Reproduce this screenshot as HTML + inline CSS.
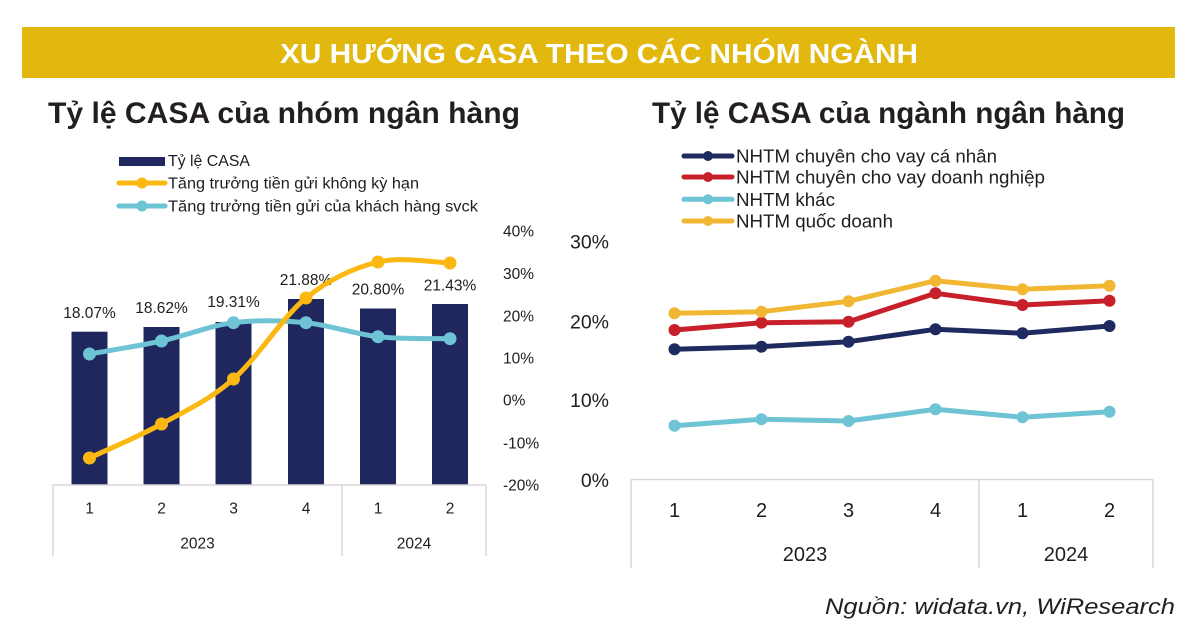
<!DOCTYPE html>
<html>
<head>
<meta charset="utf-8">
<style>
  html,body{margin:0;padding:0;background:#fff;}
  svg{display:block;}
  .t{font-family:"Liberation Sans",sans-serif;fill:#1e1e1e;}
</style>
</head>
<body>
<svg width="1200" height="641" viewBox="0 0 1200 641" xmlns="http://www.w3.org/2000/svg">
  <rect x="0" y="0" width="1200" height="641" fill="#ffffff"/>
  <!-- Banner -->
  <rect x="22" y="27" width="1153" height="51" fill="#E2B80E"/>
  <text x="280" y="63" font-family="Liberation Sans, sans-serif" font-weight="bold" font-size="28" fill="#ffffff" textLength="638" lengthAdjust="spacingAndGlyphs">XU HƯỚNG CASA THEO CÁC NHÓM NGÀNH</text>

  <!-- Titles -->
  <text x="48" y="123" font-family="Liberation Sans, sans-serif" font-weight="bold" font-size="30" fill="#231f20" textLength="472" lengthAdjust="spacingAndGlyphs">Tỷ lệ CASA của nhóm ngân hàng</text>
  <text x="652" y="123" font-family="Liberation Sans, sans-serif" font-weight="bold" font-size="30" fill="#231f20" textLength="473" lengthAdjust="spacingAndGlyphs">Tỷ lệ CASA của ngành ngân hàng</text>

  <!-- ===== LEFT CHART ===== -->
  <!-- legend -->
  <rect x="119" y="157" width="46" height="9" fill="#1F275E"/>
  <text class="t" x="168" y="166" font-size="15.5" textLength="82" lengthAdjust="spacingAndGlyphs">Tỷ lệ CASA</text>
  <line x1="119" y1="183" x2="165" y2="183" stroke="#FBB813" stroke-width="5" stroke-linecap="round"/>
  <circle cx="142" cy="183" r="5.5" fill="#FBB813"/>
  <text class="t" x="168" y="188.5" font-size="15.5" textLength="251" lengthAdjust="spacingAndGlyphs">Tăng trưởng tiền gửi không kỳ hạn</text>
  <line x1="119" y1="206" x2="165" y2="206" stroke="#6EC3D5" stroke-width="5" stroke-linecap="round"/>
  <circle cx="142" cy="206" r="5.5" fill="#6EC3D5"/>
  <text class="t" x="168" y="211.5" font-size="15.5" textLength="310" lengthAdjust="spacingAndGlyphs">Tăng trưởng tiền gửi của khách hàng svck</text>

  <!-- bars -->
  <g fill="#1F275E">
    <rect x="71.5" y="331.7" width="36" height="153.3"/>
    <rect x="143.5" y="327" width="36" height="158"/>
    <rect x="215.5" y="322" width="36" height="163"/>
    <rect x="288" y="299" width="36" height="186"/>
    <rect x="360" y="308.5" width="36" height="176.5"/>
    <rect x="432" y="304" width="36" height="181"/>
  </g>
  <!-- bar labels -->
  <g class="t" font-size="15.5" text-anchor="middle">
    <text x="89.5" y="318">18.07%</text>
    <text x="161.5" y="313">18.62%</text>
    <text x="233.5" y="307">19.31%</text>
    <text x="306" y="285">21.88%</text>
    <text x="378" y="294.5">20.80%</text>
    <text x="450" y="290.5">21.43%</text>
  </g>

  <!-- axis box -->
  <g stroke="#d9d9d9" stroke-width="1.5" fill="none">
    <line x1="53" y1="485" x2="486" y2="485"/>
    <line x1="53" y1="485" x2="53" y2="556"/>
    <line x1="342" y1="485" x2="342" y2="556"/>
    <line x1="486" y1="485" x2="486" y2="556"/>
  </g>
  <g class="t" font-size="15.5" text-anchor="middle">
    <text x="89.5" y="513.5">1</text>
    <text x="161.5" y="513.5">2</text>
    <text x="233.5" y="513.5">3</text>
    <text x="306" y="513.5">4</text>
    <text x="378" y="513.5">1</text>
    <text x="450" y="513.5">2</text>
    <text x="197.5" y="548.5">2023</text>
    <text x="414" y="548.5">2024</text>
  </g>
  <!-- right axis labels -->
  <g class="t" font-size="15.5">
    <text x="503" y="236.5">40%</text>
    <text x="503" y="279">30%</text>
    <text x="503" y="321.5">20%</text>
    <text x="503" y="363.5">10%</text>
    <text x="503" y="405.5">0%</text>
    <text x="503" y="448.5">-10%</text>
    <text x="503" y="490.5">-20%</text>
  </g>

  <!-- blue line -->
  <path d="M89.5,354 C101.5,351.8 137.5,346.2 161.5,341 C185.5,335.8 209.4,325.75 233.5,322.7 C257.6,319.65 281.9,320.4 306,322.7 C330.1,325 354,334 378,336.7 C402,339.4 438,338.4 450,338.7" fill="none" stroke="#6EC3D5" stroke-width="5" stroke-linecap="round"/>
  <g fill="#6EC3D5">
    <circle cx="89.5" cy="354" r="6.5"/>
    <circle cx="161.5" cy="341" r="6.5"/>
    <circle cx="233.5" cy="322.7" r="6.5"/>
    <circle cx="306" cy="322.7" r="6.5"/>
    <circle cx="378" cy="336.7" r="6.5"/>
    <circle cx="450" cy="338.7" r="6.5"/>
  </g>
  <!-- yellow line -->
  <path d="M89.5,458 C101.5,452.3 137.5,437.2 161.5,424 C185.5,410.8 209.4,400 233.5,379 C257.6,358 281.9,317.5 306,298 C330.1,278.5 354,267.8 378,262 C402,256.2 438,262.8 450,263" fill="none" stroke="#FBB813" stroke-width="5" stroke-linecap="round"/>
  <g fill="#FBB813">
    <circle cx="89.5" cy="458" r="6.5"/>
    <circle cx="161.5" cy="424" r="6.5"/>
    <circle cx="233.5" cy="379" r="6.5"/>
    <circle cx="306" cy="298" r="6.5"/>
    <circle cx="378" cy="262" r="6.5"/>
    <circle cx="450" cy="263" r="6.5"/>
  </g>

  <!-- ===== RIGHT CHART ===== -->
  <!-- legend -->
  <g stroke-width="5" stroke-linecap="round">
    <line x1="684" y1="156" x2="732" y2="156" stroke="#1F2B5E"/>
    <line x1="684" y1="177" x2="732" y2="177" stroke="#C8202A"/>
    <line x1="684" y1="199.3" x2="732" y2="199.3" stroke="#6EC3D5"/>
    <line x1="684" y1="221" x2="732" y2="221" stroke="#F1B733"/>
  </g>
  <circle cx="708" cy="156" r="5" fill="#1F2B5E"/>
  <circle cx="708" cy="177" r="5" fill="#C8202A"/>
  <circle cx="708" cy="199.3" r="5" fill="#6EC3D5"/>
  <circle cx="708" cy="221" r="5" fill="#F1B733"/>
  <g class="t" font-size="18.5">
    <text x="736" y="162.5" textLength="261" lengthAdjust="spacingAndGlyphs">NHTM chuyên cho vay cá nhân</text>
    <text x="736" y="183.5" textLength="309" lengthAdjust="spacingAndGlyphs">NHTM chuyên cho vay doanh nghiệp</text>
    <text x="736" y="206" textLength="99" lengthAdjust="spacingAndGlyphs">NHTM khác</text>
    <text x="736" y="227.5" textLength="157" lengthAdjust="spacingAndGlyphs">NHTM quốc doanh</text>
  </g>
  <!-- y labels -->
  <g class="t" font-size="19.5" text-anchor="end">
    <text x="609" y="248.5">30%</text>
    <text x="609" y="328.5">20%</text>
    <text x="609" y="407">10%</text>
    <text x="609" y="487">0%</text>
  </g>
  <!-- axis box -->
  <g stroke="#d9d9d9" stroke-width="1.5" fill="none">
    <line x1="631" y1="479.5" x2="1153" y2="479.5"/>
    <line x1="631" y1="479.5" x2="631" y2="568"/>
    <line x1="979" y1="479.5" x2="979" y2="568"/>
    <line x1="1153" y1="479.5" x2="1153" y2="568"/>
  </g>
  <g class="t" font-size="20" text-anchor="middle">
    <text x="674.5" y="517">1</text>
    <text x="761.5" y="517">2</text>
    <text x="848.5" y="517">3</text>
    <text x="935.5" y="517">4</text>
    <text x="1022.5" y="517">1</text>
    <text x="1109.5" y="517">2</text>
    <text x="805" y="561">2023</text>
    <text x="1066" y="561">2024</text>
  </g>

  <!-- series -->
  <g fill="none" stroke-width="5" stroke-linejoin="round" stroke-linecap="round">
    <polyline points="674.5,425.7 761.5,419.3 848.5,421 935.5,409.3 1022.5,417.3 1109.5,411.7" stroke="#6EC3D5"/>
    <polyline points="674.5,349.3 761.5,346.7 848.5,341.7 935.5,329.3 1022.5,333.3 1109.5,326" stroke="#1F2B5E"/>
    <polyline points="674.5,330 761.5,322.7 848.5,321.7 935.5,293.3 1022.5,305 1109.5,300.7" stroke="#C8202A"/>
    <polyline points="674.5,313.3 761.5,311.7 848.5,301.3 935.5,280.7 1022.5,289.3 1109.5,285.7" stroke="#F1B733"/>
  </g>
  <g fill="#6EC3D5">
    <circle cx="674.5" cy="425.7" r="6"/><circle cx="761.5" cy="419.3" r="6"/><circle cx="848.5" cy="421" r="6"/>
    <circle cx="935.5" cy="409.3" r="6"/><circle cx="1022.5" cy="417.3" r="6"/><circle cx="1109.5" cy="411.7" r="6"/>
  </g>
  <g fill="#1F2B5E">
    <circle cx="674.5" cy="349.3" r="6"/><circle cx="761.5" cy="346.7" r="6"/><circle cx="848.5" cy="341.7" r="6"/>
    <circle cx="935.5" cy="329.3" r="6"/><circle cx="1022.5" cy="333.3" r="6"/><circle cx="1109.5" cy="326" r="6"/>
  </g>
  <g fill="#C8202A">
    <circle cx="674.5" cy="330" r="6"/><circle cx="761.5" cy="322.7" r="6"/><circle cx="848.5" cy="321.7" r="6"/>
    <circle cx="935.5" cy="293.3" r="6"/><circle cx="1022.5" cy="305" r="6"/><circle cx="1109.5" cy="300.7" r="6"/>
  </g>
  <g fill="#F1B733">
    <circle cx="674.5" cy="313.3" r="6"/><circle cx="761.5" cy="311.7" r="6"/><circle cx="848.5" cy="301.3" r="6"/>
    <circle cx="935.5" cy="280.7" r="6"/><circle cx="1022.5" cy="289.3" r="6"/><circle cx="1109.5" cy="285.7" r="6"/>
  </g>

  <!-- source -->
  <text x="825" y="614" font-family="Liberation Sans, sans-serif" font-style="italic" font-size="22" fill="#231f20" textLength="350" lengthAdjust="spacingAndGlyphs">Nguồn: widata.vn, WiResearch</text>
</svg>
</body>
</html>
